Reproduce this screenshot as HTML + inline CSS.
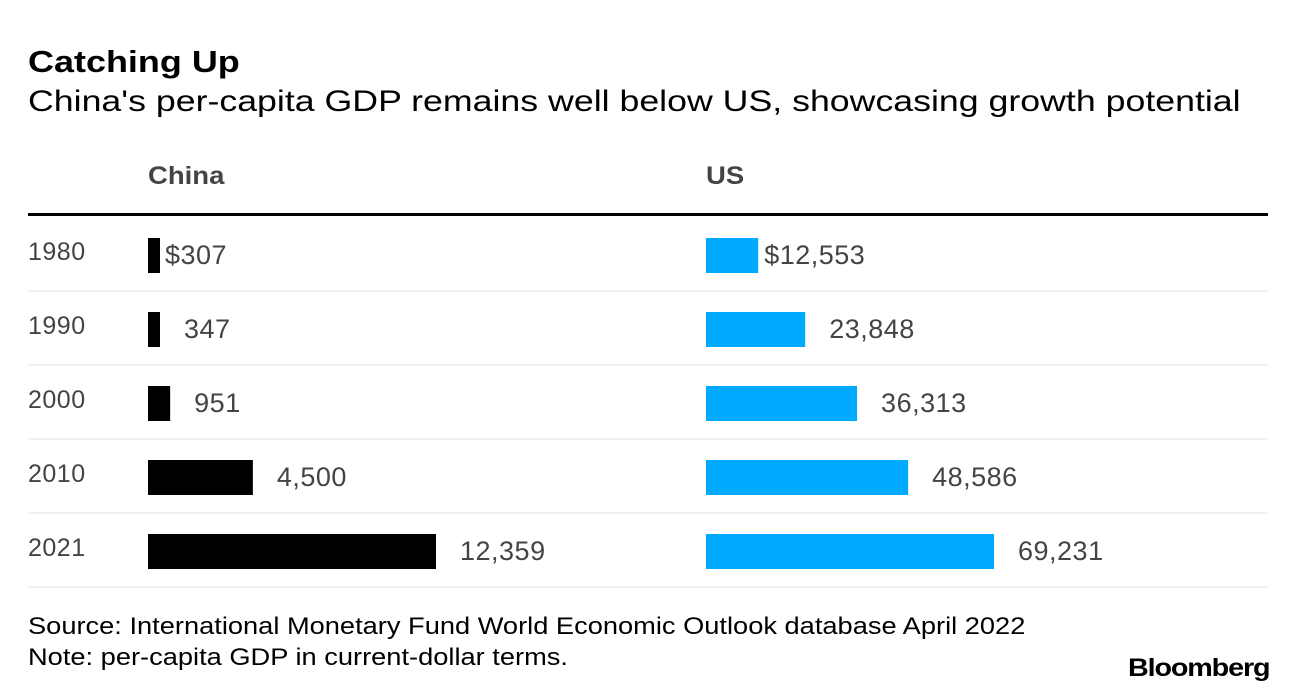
<!DOCTYPE html>
<html><head><meta charset="utf-8"><style>
body{margin:0;width:1296px;height:696px;background:#fff;font-family:"Liberation Sans",Arial,sans-serif;overflow:hidden;position:relative}
.t{position:absolute;white-space:nowrap;transform-origin:0 0}
</style></head><body>
<div class="t" style="left:28px;top:44px;font-size:31px;font-weight:bold;color:#000;transform:scaleX(1.16)">Catching Up</div>
<div class="t" style="left:28px;top:85px;font-size:30px;color:#000;transform:scaleX(1.19)">China's per-capita GDP remains well below US, showcasing growth potential</div>
<div class="t" style="left:148px;top:162px;font-size:25px;font-weight:bold;color:#444;transform:scaleX(1.1)">China</div>
<div class="t" style="left:706px;top:162px;font-size:25px;font-weight:bold;color:#444;transform:scaleX(1.1)">US</div>
<div style="position:absolute;left:28px;top:213px;width:1240px;height:3px;background:#000"></div>
<svg id="chart" width="1296" height="696" style="position:absolute;left:0;top:0"></svg>
<div class="t" style="left:28px;top:613px;font-size:24px;color:#000;transform:scaleX(1.135)">Source: International Monetary Fund World Economic Outlook database April 2022</div>
<div class="t" style="left:28px;top:644px;font-size:24px;color:#000;transform:scaleX(1.135)">Note: per-capita GDP in current-dollar terms.</div>
<div class="t" style="left:1128px;top:654px;font-size:25px;font-weight:bold;letter-spacing:-1px;color:#000;transform:scaleX(1.15)">Bloomberg</div>
<script>
const years=["1980","1990","2000","2010","2021"];
const china=[307,347,951,4500,12359];
const us=[12553,23848,36313,48586,69231];
const svg=document.getElementById('chart');
const NS='http://www.w3.org/2000/svg';
const rowY=i=>255+i*74;
const wC=v=>Math.max(12,v/12359*288);
const wU=v=>v/69231*288;
function mk(tag,attrs){const e=document.createElementNS(NS,tag);for(const k in attrs)e.setAttribute(k,attrs[k]);svg.appendChild(e);return e;}
function fmt(v){return v.toLocaleString('en-US');}
years.forEach((y,i)=>{
  const cy=rowY(i);
  const sep=mk('line',{x1:28,x2:1268,y1:cy+36,y2:cy+36,stroke:'#e6e6e6','stroke-width':1});
  
  
  const yl=mk('text',{x:28,y:cy+5,'font-size':25,fill:'#444','letter-spacing':0.5});yl.textContent=y;
  
  
  [[china,148,wC,'#000','china'],[us,706,wU,'#00aaff','us']].forEach(([arr,x0,wf,col,nm])=>{
    const w=Math.max(wf(arr[i]), nm==='us'?0:12);
    const b=mk('rect',{x:x0,y:cy-17,width:w,height:35,fill:col});
    
    
    const lx=i===0?x0+w+(nm==='us'?6:5):x0+w+24;
    const t=mk('text',{x:lx,y:cy+9,'font-size':27,fill:'#444','letter-spacing':0.5});
    t.textContent=(i===0?'$':'')+fmt(arr[i]);
    
    
  });
});
</script>
</body></html>
